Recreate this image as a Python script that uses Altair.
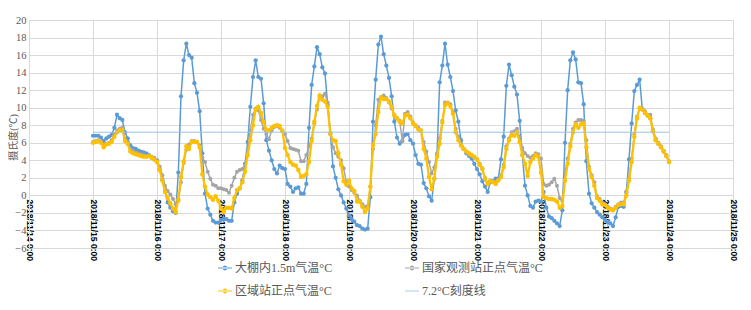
import altair as alt
import pandas as pd
from datetime import datetime, timedelta, timezone

# ---------------- data (hourly, from 2018/11/15 0:00) ----------------
SERIES = ["大棚内1.5m气温°C", "国家观测站正点气温°C", "区域站正点气温°C", "7.2°C刻度线"]
COLORS = ["#5B9BD5", "#A5A5A5", "#FFC000", "#9DC3E6"]

blue_d15 = [6.8, 6.8, 6.8, 6.6, 6.2, 6.5, 6.7, 6.9, 7.7, 9.2, 8.8, 8.6, 7.2, 6.5, 5.7, 5.4, 5.3, 5.1, 5.0, 4.9, 4.8, 4.6, 4.3, 4.1]
blue_d16 = [4.0, 3.0, 1.8, 0.5, -0.8, -1.4, -1.8, -2.0, 2.6, 11.3, 15.4, 17.3, 16.0, 15.7, 12.8, 11.7, 9.6, 4.8, 0.2, -1.5, -2.2, -2.9, -3.1, -3.1]
blue_d17 = [-2.8, -2.7, -2.7, -2.9, -2.9, -0.8, 0.2, 0.8, 1.7, 3.6, 6.1, 10.1, 13.5, 15.4, 13.5, 13.3, 10.5, 6.3, 5.1, 4.0, 3.0, 2.5, 3.4, 3.1]
blue_d18 = [3.0, 1.3, 1.0, 0.4, 0.8, 0.9, 0.2, 0.2, 1.3, 7.7, 12.6, 14.7, 16.9, 16.1, 14.6, 13.9, 10.3, 7.1, 3.3, 2.0, 0.7, 0.0, -0.8, -1.5]
blue_d19 = [-2.3, -2.7, -3.0, -3.4, -3.5, -3.8, -3.9, -3.8, -0.2, 8.4, 13.2, 17.2, 18.1, 16.1, 14.8, 13.4, 11.3, 8.4, 6.6, 5.9, 6.2, 6.9, 7.0, 6.3]
blue_d20 = [5.9, 4.6, 3.6, 3.5, 1.4, 0.8, -0.1, -0.6, 1.9, 4.6, 12.9, 14.8, 17.3, 14.9, 13.5, 11.9, 9.7, 8.4, 6.3, 5.3, 4.8, 4.5, 4.2, 3.6]
blue_d21 = [3.0, 2.4, 1.6, 1.0, 0.4, 1.5, 1.6, 1.9, 1.9, 4.1, 6.7, 12.5, 14.9, 13.7, 12.4, 11.5, 8.5, 4.6, 1.1, 0.0, -1.2, -1.4, -0.7, -0.6]
blue_d22 = [-0.7, 0.4, -1.4, -2.4, -2.6, -2.9, -3.2, -3.5, -1.7, 6.0, 12.0, 15.4, 16.3, 15.5, 12.9, 12.8, 10.4, 3.9, 0.2, -0.9, -1.4, -1.9, -2.2, -2.5]
blue_d23 = [-2.8, -3.1, -3.2, -3.5, -2.5, -1.3, -1.2, -1.3, 0.4, 4.1, 8.2, 11.9, 12.6, 13.2, 9.8, 9.4, 9.1, 8.8, 7.3, 6.3, 5.9, 5.5, 5.0, 4.5]
blue_d24 = [3.8]

gray_d15 = [6.1, 6.2, 6.3, 6.1, 5.7, 5.9, 6.0, 6.3, 7.0, 7.4, 7.6, 7.7, 6.5, 6.0, 5.3, 5.1, 4.9, 4.8, 4.7, 4.6, 4.5, 4.5, 4.4, 4.3]
gray_d16 = [3.9, 3.3, 2.3, 1.1, 0.5, 0.1, -0.4, -1.0, -0.6, 1.5, 3.7, 5.2, 5.8, 6.2, 6.2, 6.1, 5.7, 4.3, 3.8, 2.7, 1.9, 1.2, 1.1, 0.8]
gray_d17 = [0.8, 0.7, 0.6, 0.3, 1.1, 2.0, 2.7, 2.9, 3.0, 3.4, 5.3, 7.4, 9.2, 9.9, 9.7, 8.6, 7.6, 7.0, 6.4, 7.4, 7.8, 7.9, 7.7, 7.3]
gray_d18 = [7.0, 6.2, 5.4, 5.3, 5.2, 5.1, 3.9, 3.9, 4.6, 5.6, 6.5, 8.2, 9.8, 11.2, 11.3, 11.6, 10.6, 7.0, 5.5, 4.8, 4.4, 4.0, 3.1, 1.5]
gray_d19 = [1.0, 0.6, 0.3, 0.0, -0.6, -1.0, -1.3, -1.2, 1.0, 5.3, 8.0, 10.9, 11.2, 11.4, 11.1, 10.6, 9.9, 9.2, 8.8, 8.5, 6.2, 9.3, 9.5, 9.0]
gray_d20 = [8.3, 8.0, 7.7, 7.4, 6.1, 5.0, 3.8, 2.5, 3.2, 4.8, 6.5, 8.5, 10.6, 10.6, 10.4, 9.5, 7.6, 6.7, 5.9, 5.3, 5.0, 4.6, 4.5, 4.3]
gray_d21 = [4.1, 3.6, 3.1, 2.0, 1.4, 1.7, 1.6, 1.4, 1.8, 2.3, 3.5, 5.6, 6.5, 7.2, 7.3, 7.6, 6.6, 5.4, 4.8, 4.5, 4.3, 4.5, 4.8, 4.7]
gray_d22 = [4.2, 1.3, 1.1, 1.2, 1.5, 1.9, 1.1, -0.3, -0.6, 2.6, 4.2, 5.9, 7.6, 8.3, 8.6, 8.6, 8.5, 6.3, 3.3, 2.3, 1.5, -0.1, -0.4, -0.8]
gray_d23 = [-1.0, -1.3, -1.5, -1.6, -1.3, -1.0, -0.8, -0.8, 0.3, 2.0, 4.2, 7.0, 9.0, 9.9, 9.9, 9.6, 9.2, 9.2, 7.5, 6.5, 6.0, 5.6, 5.1, 4.6]
gray_d24 = [3.9]

yell_d15 = [6.0, 6.1, 6.2, 6.0, 5.5, 5.8, 5.9, 6.1, 6.7, 7.2, 7.4, 7.5, 6.2, 5.9, 5.0, 4.8, 4.7, 4.6, 4.5, 4.4, 4.4, 4.5, 4.3, 4.1]
yell_d16 = [3.8, 2.9, 1.7, 0.4, -0.3, -0.9, -1.5, -1.9, -0.5, 2.1, 3.9, 5.6, 5.3, 6.1, 6.1, 6.1, 5.5, 2.4, 1.0, 0.1, -0.2, -0.5, -0.1, -0.6]
yell_d17 = [-1.5, -1.9, -1.4, -1.4, -1.5, -0.3, 0.6, 0.8, 1.5, 2.7, 4.6, 6.3, 8.0, 9.8, 10.1, 9.4, 8.4, 7.5, 7.4, 7.7, 7.9, 8.0, 7.9, 7.4]
yell_d18 = [5.4, 4.6, 3.8, 3.5, 3.4, 2.9, 2.1, 2.2, 2.4, 3.8, 6.2, 8.4, 10.2, 11.4, 10.9, 10.7, 10.1, 7.0, 6.3, 6.2, 4.8, 3.5, 1.6, 1.2]
yell_d19 = [1.7, 0.8, 0.5, -0.7, -0.7, -1.3, -1.9, -1.5, 1.0, 5.7, 7.0, 9.5, 11.2, 11.0, 11.0, 10.7, 10.1, 9.1, 8.8, 8.4, 8.2, 9.1, 9.2, 8.8]
yell_d20 = [8.2, 7.9, 7.5, 7.4, 5.3, 4.2, 2.1, 0.7, 1.9, 4.4, 5.9, 8.3, 10.3, 10.5, 10.2, 9.3, 7.2, 6.3, 5.7, 5.3, 5.0, 4.8, 4.6, 4.4]
yell_d21 = [4.1, 3.5, 3.0, 1.9, 1.3, 1.6, 1.5, 1.3, 1.7, 2.1, 3.2, 5.3, 6.3, 6.9, 6.8, 7.2, 6.1, 4.6, 3.6, 2.2, 3.8, 4.2, 4.6, 4.4]
yell_d22 = [2.6, -0.2, -0.3, -0.4, -0.4, -0.5, -0.7, -1.4, -1.2, 1.7, 3.6, 5.6, 7.2, 8.1, 7.7, 8.1, 8.2, 5.5, 3.0, 2.1, 1.1, -0.3, -0.6, -1.0]
yell_d23 = [-1.1, -1.4, -1.6, -1.7, -1.4, -1.1, -1.0, -1.0, 0.0, 1.7, 3.8, 6.7, 8.8, 10.0, 9.8, 9.4, 9.1, 8.8, 7.3, 6.3, 5.9, 5.5, 5.0, 4.5]
yell_d24 = [3.8]

ref_times = ["2018-11-15T00:00:00Z", "2018-11-24T00:00:00Z"]
ref_values = [7.2, 7.2]

tick_days = list(range(14, 26))  # 2018/11/14 ... 2018/11/25

blue = blue_d15 + blue_d16 + blue_d17 + blue_d18 + blue_d19 + blue_d20 + blue_d21 + blue_d22 + blue_d23 + blue_d24
gray = gray_d15 + gray_d16 + gray_d17 + gray_d18 + gray_d19 + gray_d20 + gray_d21 + gray_d22 + gray_d23 + gray_d24
yell = yell_d15 + yell_d16 + yell_d17 + yell_d18 + yell_d19 + yell_d20 + yell_d21 + yell_d22 + yell_d23 + yell_d24

t0 = datetime(2018, 11, 15, tzinfo=timezone.utc)
times = [(t0 + timedelta(hours=i)).strftime("%Y-%m-%dT%H:%M:%SZ") for i in range(len(blue))]

rows = []
for name, vals in zip(SERIES[:3], [blue, gray, yell]):
    for t, v in zip(times, vals):
        rows.append({"t": t, "s": name, "v": v})
for t, v in zip(ref_times, ref_values):
    rows.append({"t": t, "s": SERIES[3], "v": v})
df = pd.DataFrame(rows)

# ---------------- encodings ----------------
x_enc = alt.X(
    "t:T",
    scale=alt.Scale(type="utc",
                    domain=[alt.DateTime(year=2018, month=11, date=14, utc=True),
                            alt.DateTime(year=2018, month=11, date=25, utc=True)]),
    axis=alt.Axis(
        values=[alt.DateTime(year=2018, month=11, date=d, utc=True) for d in tick_days],
        labelExpr="utcFormat(datum.value, '%Y/%m/%d %-H:%M')",
        labelAngle=90, labelFont="Liberation Sans", labelFontSize=8.5,
        labelFontWeight="bold", labelColor="#000000", labelPadding=4,
        labelOverlap=False, labelFlush=False, labelBound=False,
        ticks=False, domain=True, domainColor="#D9D9D9", domainWidth=1,
        grid=True, gridColor="#D9D9D9", gridWidth=1,
        offset=-53, title=None,
    ),
)
y_enc = alt.Y(
    "v:Q",
    scale=alt.Scale(domain=[-6, 20], nice=False, zero=False),
    axis=alt.Axis(
        values=list(range(-6, 21, 2)),
        grid=True, gridColor="#D9D9D9", gridWidth=1,
        domain=True, domainColor="#D9D9D9", ticks=False,
        labelFont="Liberation Serif", labelFontSize=10.5, labelColor="#595959", labelPadding=3,
        title="摄氏度(℃)", titleFont="Liberation Serif, Noto Sans CJK SC", titleFontSize=10,
        titleFontWeight="normal", titleColor="#595959",
        titleAngle=270, titleX=-16, titleY=117, titleAlign="center", titleBaseline="middle",
    ),
)

base = alt.Chart(df)

def series_layers(name, color, width, size):
    sub = base.transform_filter(alt.datum.s == name)
    line = sub.mark_line(color=color, strokeWidth=width).encode(x=x_enc, y=y_enc)
    pts = sub.mark_circle(color=color, size=size, opacity=1).encode(x=x_enc, y=y_enc)
    return [line, pts]

layers = []
layers += series_layers(SERIES[0], COLORS[0], 1.5, 18)
layers += series_layers(SERIES[1], COLORS[1], 1.5, 16)
layers += series_layers(SERIES[2], COLORS[2], 2.25, 20)
ref = base.transform_filter(alt.datum.s == SERIES[3]).mark_line(
    color=COLORS[3], strokeWidth=1).encode(x=x_enc, y=y_enc)
layers.append(ref)

# legend-only layer (invisible points) carrying colour + custom symbol shapes
LINE_DOT = ("M-1,-0.08H1V0.08H-1Z "
            "M-0.34,0A0.34,0.34,0,1,0,0.34,0A0.34,0.34,0,1,0,-0.34,0Z")
LINE_ONLY = "M-1,-0.06H1V0.06H-1Z"
SHAPES = [LINE_DOT, LINE_DOT, LINE_DOT, LINE_ONLY]

leg = dict(title=None, orient="none", legendX=189, legendY=241, columns=2,
           direction="horizontal",
           columnPadding=72, rowPadding=10, symbolSize=196, symbolOpacity=1,
           symbolStrokeWidth=0, labelFont="Liberation Serif, Noto Sans CJK SC",
           labelFontSize=12, labelColor="#595959", labelOffset=3, padding=0,
           labelLimit=300)
legend_layer = base.mark_point(filled=True, opacity=0).encode(
    x=x_enc, y=y_enc,
    color=alt.Color("s:N", scale=alt.Scale(domain=SERIES, range=COLORS),
                    legend=alt.Legend(**leg)),
    shape=alt.Shape("s:N", scale=alt.Scale(domain=SERIES, range=SHAPES),
                    legend=alt.Legend(**leg)),
)
layers.append(legend_layer)

chart = alt.layer(*layers).properties(
    width=704, height=228,
    autosize=alt.AutoSizeParams(type="none"),
    padding={"left": 21, "top": 12, "right": 10, "bottom": 54},
    background="white",
).configure_view(stroke="transparent")

chart.save("out.html", embed_options={"renderer": "svg", "actions": False})
